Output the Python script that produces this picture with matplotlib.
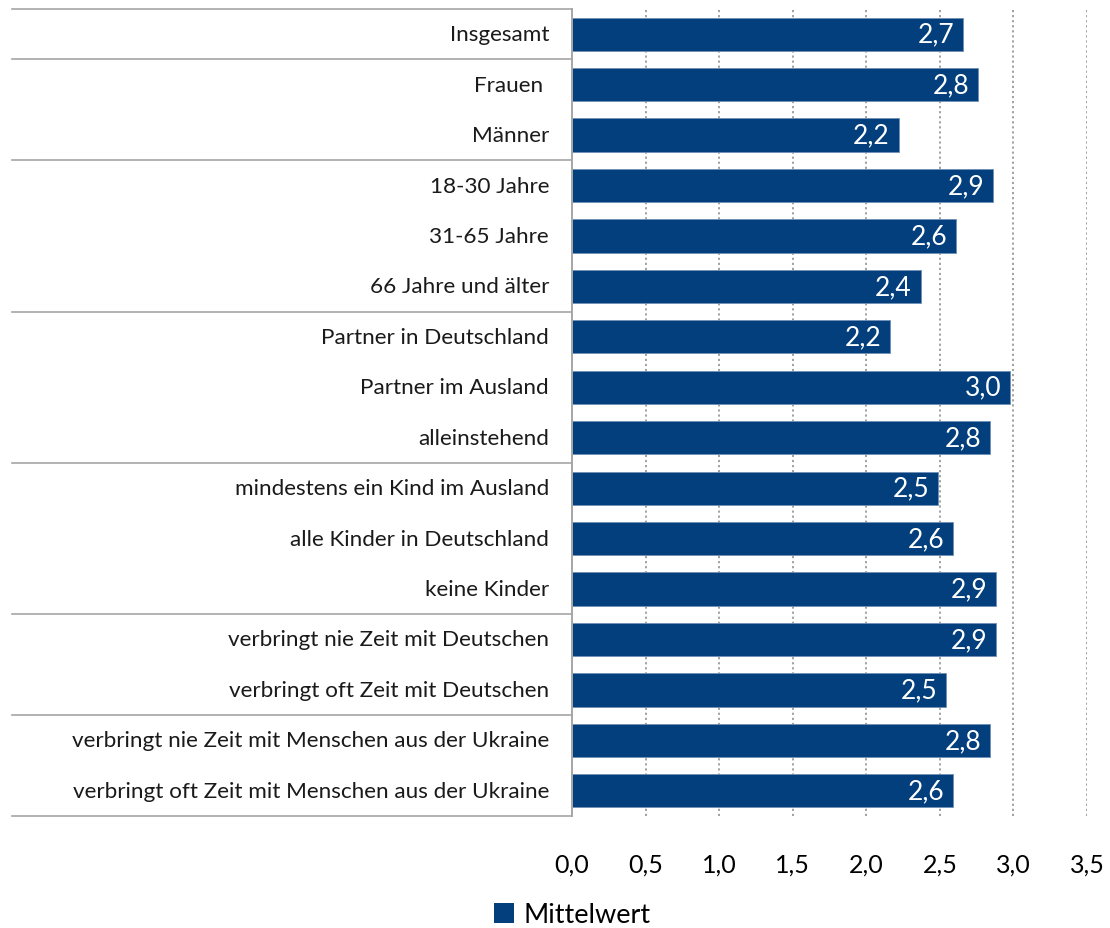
import matplotlib.pyplot as plt
import matplotlib.transforms as mtransforms
from matplotlib.patches import Patch

plt.rcParams['font.family'] = ['Lato', 'DejaVu Sans']

categories = [
    "Insgesamt",
    "Frauen ",
    "Männer",
    "18-30 Jahre",
    "31-65 Jahre",
    "66 Jahre und älter",
    "Partner in Deutschland",
    "Partner im Ausland",
    "alleinstehend",
    "mindestens ein Kind im Ausland",
    "alle Kinder in Deutschland",
    "keine Kinder",
    "verbringt nie Zeit mit Deutschen",
    "verbringt oft Zeit mit Deutschen",
    "verbringt nie Zeit mit Menschen aus der Ukraine",
    "verbringt oft Zeit mit Menschen aus der Ukraine",
]
mittelwert = [2.66, 2.76, 2.22, 2.86, 2.61, 2.37, 2.16, 2.98,
              2.84, 2.49, 2.59, 2.88, 2.88, 2.54, 2.84, 2.59]
# rows after which a group separator is drawn
group_breaks = [0, 2, 5, 8, 11, 13]
xticks = [0.0, 0.5, 1.0, 1.5, 2.0, 2.5, 3.0, 3.5]

bar_color = "#023f7c"
line_color = "#a6a6a6"

fig = plt.figure(figsize=(11.10, 9.29), dpi=100)
ax = fig.add_axes([572 / 1110, 1 - 817 / 929, 515 / 1110, 807 / 929])

ypos = list(range(len(categories)))
ax.barh(ypos, mittelwert, height=0.66, color=bar_color,
        edgecolor="#6f8fb5", linewidth=0.6, zorder=3)

ax.set_xlim(0, 3.5)
ax.set_ylim(len(categories) - 0.5, -0.5)

# dotted grid lines
for t in xticks[1:]:
    ax.axvline(t, color="#9a9a9a", linestyle=(0, (1.2, 1.6)), linewidth=1.3, zorder=1)

for s in ax.spines.values():
    s.set_visible(False)
ax.set_yticks([])
ax.set_xticks(xticks)
ax.set_xticklabels([f"{t:.1f}".replace(".", ",") for t in xticks], fontsize=18)
ax.tick_params(axis="x", length=0, pad=26)

# value labels inside bars
for y, v in zip(ypos, mittelwert):
    ax.text(v - 0.06, y, f"{v:.1f}".replace(".", ","), ha="right", va="center",
            color="white", fontsize=19, zorder=4)

# label area with separator lines
trans = mtransforms.blended_transform_factory(ax.transAxes, ax.transData)
x_left = (12 - 572) / 515
seps = [-0.5] + [b + 0.5 for b in group_breaks] + [len(categories) - 0.5]
for yb in seps:
    ax.plot([x_left, 0], [yb, yb], color=line_color, linewidth=1.2,
            transform=trans, clip_on=False, zorder=5)
ax.plot([0, 0], [-0.5, len(categories) - 0.5], color=line_color, linewidth=1.4,
        transform=trans, clip_on=False, zorder=5)

label_x = -23 / 515
for y, c in zip(ypos, categories):
    ax.text(label_x, y, c, ha="right", va="center", fontsize=16.2,
            color="#1a1a1a", transform=trans)

fig.legend(handles=[Patch(facecolor=bar_color, label="Mittelwert")],
           loc="center", bbox_to_anchor=(572 / 1110, 1 - 916 / 929),
           frameon=False, fontsize=19.5, handlelength=0.75, handleheight=0.75,
           handletextpad=0.35)

fig.savefig("out.png", dpi=100)
